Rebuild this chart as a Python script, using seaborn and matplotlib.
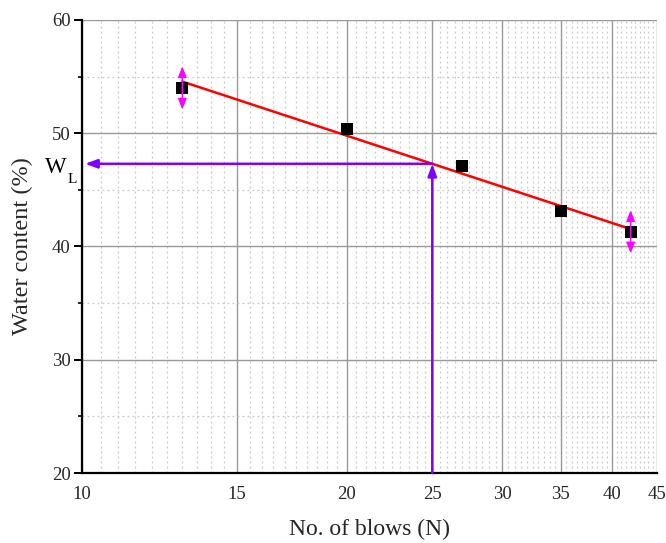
import numpy as np
import pandas as pd
import matplotlib
matplotlib.use("Agg")
import matplotlib.pyplot as plt
from matplotlib.ticker import FixedLocator, NullFormatter
import seaborn as sns

# Liquid limit test: number of blows vs water content
blows = [13, 20, 27, 35, 42]
water = [54.0, 50.4, 47.1, 43.1, 41.3]
spread = [1.9, 0.0, 0.0, 0.0, 1.9]
x_ticks = [10, 15, 20, 25, 30, 35, 40, 45]
y_ticks = [20, 30, 40, 50, 60]
n_ref = 25

sns.set_theme(style="white")
plt.rcParams["font.family"] = ["Liberation Serif", "DejaVu Serif"]

df = pd.DataFrame({"N": blows, "w": water})

fig = plt.figure(figsize=(6.66, 5.43), dpi=100)
ax = fig.add_axes([0.1231, 0.1289, 0.8634, 0.8343])
ax.set_xscale("log")
ax.set_xlim(10, 45)
ax.set_ylim(20, 60)

# grid
minor_x = [v for v in np.arange(10.5, 45.0, 0.5) if v not in x_ticks]
ax.xaxis.set_major_locator(FixedLocator(x_ticks))
ax.xaxis.set_minor_locator(FixedLocator(minor_x))
ax.xaxis.set_minor_formatter(NullFormatter())
ax.set_xticklabels([str(v) for v in x_ticks])
ax.yaxis.set_major_locator(FixedLocator(y_ticks))
ax.yaxis.set_minor_locator(FixedLocator([25, 35, 45, 55]))
ax.grid(which="major", color="#999999", lw=1.0, ls="-")
ax.grid(which="minor", color="#c8c8c8", lw=0.9, ls=(0, (1.5, 2.5)))
ax.set_axisbelow(True)

# linear fit of water content against log(N)
coef = np.polyfit(np.log(blows), water, 1)
w_l = coef[0] * np.log(n_ref) + coef[1]

sns.regplot(data=df, x="N", y="w", logx=True, ci=None, ax=ax,
            marker="s", color="black",
            scatter_kws=dict(s=78, color="black", alpha=1, zorder=4,
                             linewidths=0),
            line_kws=dict(color="red", lw=1.8, zorder=3))

# variation arrows on the end points
for xi, yi, e in zip(blows, water, spread):
    if e > 0:
        ax.annotate("", xy=(xi, yi + e), xytext=(xi, yi - e),
                    arrowprops=dict(arrowstyle="<|-|>,head_length=0.55,head_width=0.22",
                                    color="#ff00ff", lw=1.0, shrinkA=0, shrinkB=0),
                    zorder=5)

# reading of the liquid limit at 25 blows
purple = "#8000ff"
head = "-|>,head_length=0.6,head_width=0.22"
ax.annotate("", xy=(n_ref, w_l), xytext=(n_ref, 20),
            arrowprops=dict(arrowstyle=head, color=purple, lw=1.8,
                            shrinkA=0, shrinkB=0), zorder=3)
ax.annotate("", xy=(10.08, w_l), xytext=(n_ref, w_l),
            arrowprops=dict(arrowstyle=head, color=purple, lw=1.8,
                            shrinkA=0, shrinkB=0), zorder=3)
ax.annotate("W", xy=(10, w_l), xycoords="data",
            xytext=(-26.6, -6.8), textcoords="offset points",
            ha="left", va="baseline", fontsize=16.5, color="black",
            annotation_clip=False)
ax.annotate("L", xy=(10, w_l), xycoords="data",
            xytext=(-10.5, -14.0), textcoords="offset points",
            ha="left", va="baseline", fontsize=11, color="black",
            annotation_clip=False)

sns.despine(ax=ax, top=True, right=True)
for s in ("left", "bottom"):
    ax.spines[s].set_color("black")
    ax.spines[s].set_linewidth(1.6)

ax.tick_params(axis="y", which="major", direction="out", length=6, width=1.4,
               color="black", labelsize=13.5, pad=2, left=True)
ax.tick_params(axis="y", which="minor", direction="out", length=3, width=1.2,
               color="black", left=True)
ax.tick_params(axis="x", which="both", length=0, labelsize=13.5, pad=9)

ax.set_xlabel("No. of blows (N)", fontsize=17, labelpad=12)
ax.set_ylabel("Water content (%)", fontsize=17.5, labelpad=14)

fig.savefig("out.png", dpi=100)
